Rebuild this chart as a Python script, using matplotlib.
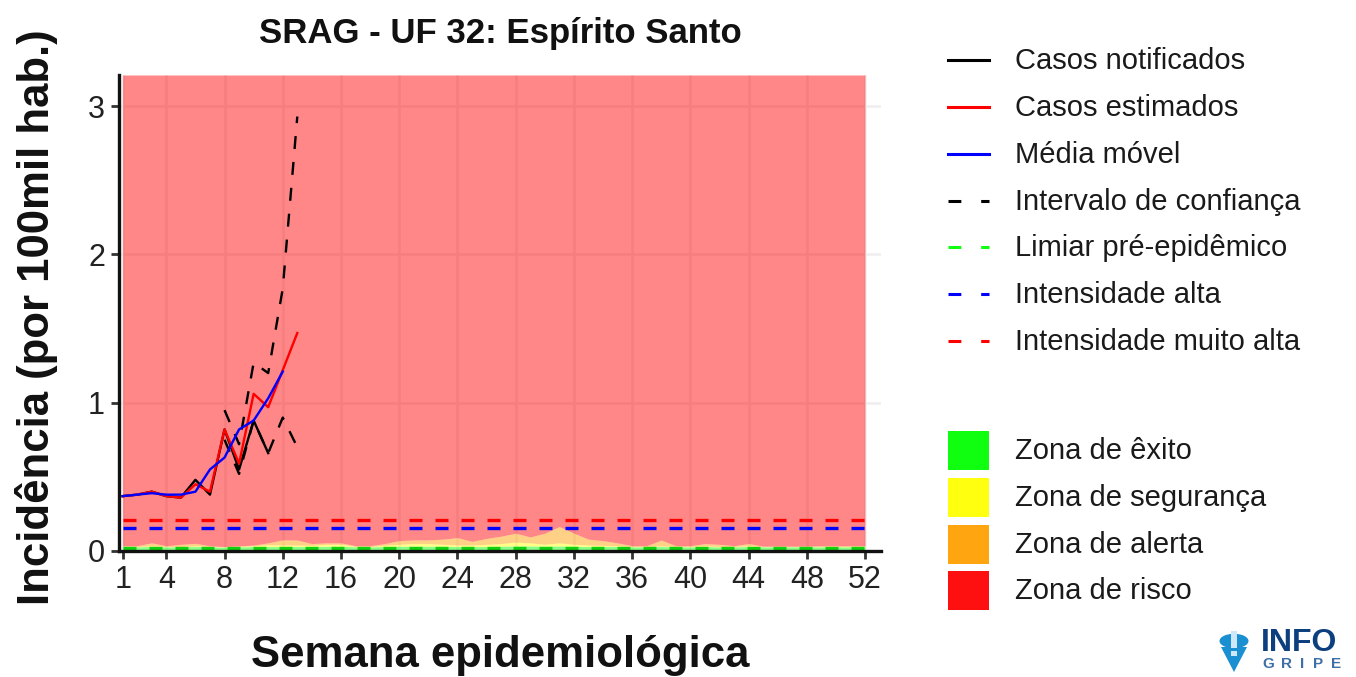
import matplotlib
matplotlib.use("Agg")
import matplotlib.pyplot as plt
from matplotlib.lines import Line2D
from matplotlib.patches import Rectangle, Circle, Polygon

plt.rcParams['font.family'] = ['Liberation Sans', 'DejaVu Sans']

# ---------------- data ----------------
title = "SRAG - UF 32: Espírito Santo"
xlabel = "Semana epidemiológica"
ylabel = "Incidência (por 100mil hab.)"

weeks_all = list(range(1, 53))
xticks = [1, 4, 8, 12, 16, 20, 24, 28, 32, 36, 40, 44, 48, 52]
yticks = [0, 1, 2, 3]

# zone limits per epidemiological week (upper bounds)
green_top = [0.028, 0.028, 0.03, 0.028, 0.028, 0.03, 0.028, 0.026, 0.028, 0.03,
             0.03, 0.03, 0.03, 0.03, 0.032, 0.032, 0.028, 0.028, 0.03, 0.032,
             0.032, 0.032, 0.032, 0.03, 0.03, 0.03, 0.032, 0.034, 0.034, 0.032,
             0.034, 0.032, 0.03, 0.03, 0.03, 0.028, 0.028, 0.03, 0.028, 0.028,
             0.03, 0.028, 0.028, 0.03, 0.028, 0.028, 0.028, 0.028, 0.028, 0.028,
             0.028, 0.028]
yellow_top = [0.03, 0.03, 0.035, 0.03, 0.03, 0.035, 0.03, 0.028, 0.03, 0.035,
              0.042, 0.04, 0.04, 0.038, 0.045, 0.045, 0.03, 0.03, 0.038, 0.045,
              0.05, 0.05, 0.045, 0.04, 0.04, 0.045, 0.05, 0.06, 0.055, 0.045,
              0.055, 0.045, 0.04, 0.038, 0.035, 0.03, 0.03, 0.035, 0.03, 0.03,
              0.035, 0.03, 0.03, 0.035, 0.03, 0.03, 0.03, 0.03, 0.03, 0.03,
              0.03, 0.03]
orange_top = [0.036, 0.036, 0.055, 0.035, 0.045, 0.052, 0.035, 0.03, 0.035, 0.04,
              0.055, 0.075, 0.074, 0.05, 0.055, 0.055, 0.036, 0.036, 0.05, 0.07,
              0.075, 0.075, 0.08, 0.09, 0.065, 0.085, 0.1, 0.12, 0.095, 0.12,
              0.165, 0.12, 0.08, 0.07, 0.055, 0.036, 0.036, 0.074, 0.036, 0.036,
              0.05, 0.045, 0.036, 0.05, 0.033, 0.033, 0.033, 0.033, 0.036, 0.036,
              0.036, 0.036]

limiar_pre = 0.02
intensidade_alta = 0.155
intensidade_muito_alta = 0.21

weeks_notif = list(range(1, 12))
casos_notificados = [0.37, 0.38, 0.40, 0.37, 0.36, 0.48, 0.38, 0.82, 0.55, 0.88, 0.66]

weeks_est = list(range(1, 14))
casos_estimados = [0.37, 0.38, 0.40, 0.37, 0.36, 0.45, 0.40, 0.82, 0.59, 1.06, 0.97, 1.22, 1.47]

weeks_mm = list(range(1, 13))
media_movel = [0.37, 0.38, 0.39, 0.38, 0.38, 0.40, 0.55, 0.63, 0.82, 0.88, 1.03, 1.21]

weeks_ic = list(range(8, 14))
ic_sup = [0.95, 0.72, 1.27, 1.20, 1.77, 2.93]
ic_inf = [0.75, 0.52, 0.88, 0.66, 0.90, 0.70]

legend_lines = ["Casos notificados", "Casos estimados", "Média móvel",
                "Intervalo de confiança", "Limiar pré-epidêmico",
                "Intensidade alta", "Intensidade muito alta"]
legend_zones = ["Zona de êxito", "Zona de segurança", "Zona de alerta", "Zona de risco"]

# ---------------- styles ----------------
C_GREEN_ZONE = '#10FF10'
C_YELLOW_ZONE = '#FFFF10'
C_ORANGE_ZONE = '#FFA510'
C_RED_ZONE = '#FF1010'
C_LIMIAR = '#10D010'

W, H = 1356, 677
fig = plt.figure(figsize=(W / 100, H / 100), dpi=100)


def fx(px):
    return px / W


def fy(py):
    return 1 - py / H


ax = fig.add_axes([fx(119), fy(551), fx(881) - fx(119), fy(75) - fy(551)])
ax.set_xlim(0.75, 53.1)
ax.set_ylim(0, 3.21)
ax.set_facecolor('white')
ax.set_axisbelow(True)
ax.grid(True, color='#EEEEEE', lw=1.8)

ytop = ax.get_ylim()[1]
zone_alpha = 0.5
ax.fill_between(weeks_all, 0, green_top, color=C_GREEN_ZONE, alpha=zone_alpha, lw=0)
ax.fill_between(weeks_all, green_top, yellow_top, color=C_YELLOW_ZONE, alpha=zone_alpha, lw=0)
ax.fill_between(weeks_all, yellow_top, orange_top, color=C_ORANGE_ZONE, alpha=zone_alpha, lw=0)
ax.fill_between(weeks_all, orange_top, ytop, color=C_RED_ZONE, alpha=zone_alpha, lw=0)

thr_kw = dict(lw=2.4, dashes=(3.9, 3.9))
ax.plot([weeks_all[0], weeks_all[-1]], [limiar_pre] * 2, color=C_LIMIAR, **thr_kw)
ax.plot([weeks_all[0], weeks_all[-1]], [intensidade_alta] * 2, color='#0000FF', **thr_kw)
ax.plot([weeks_all[0], weeks_all[-1]], [intensidade_muito_alta] * 2, color='#FF0000', **thr_kw)

ax.plot(weeks_ic, ic_sup, color='black', lw=1.7, dashes=(5.5, 5.5))
ax.plot(weeks_ic, ic_inf, color='black', lw=1.7, dashes=(5.5, 5.5))
ax.plot(weeks_notif, casos_notificados, color='black', lw=1.7)
ax.plot(weeks_est, casos_estimados, color='#FF0000', lw=1.7)
ax.plot(weeks_mm, media_movel, color='#0000FF', lw=1.7)

ax.set_xticks(xticks)
ax.set_yticks(yticks)
ax.set_xticklabels([str(t) for t in xticks])
ax.set_yticklabels([str(t) for t in yticks])
ax.tick_params(axis='both', labelsize=22, length=6, width=2, color='#333333',
               labelcolor='#222222', pad=4)
for s in ['top', 'right']:
    ax.spines[s].set_visible(False)
for s in ['left', 'bottom']:
    ax.spines[s].set_linewidth(2.4)
    ax.spines[s].set_color('#111111')

# ---------------- titles ----------------
fig.text(fx(500), fy(33), title, ha='center', va='center', fontsize=25,
         fontweight='bold', color='#111111')
fig.text(fx(500), fy(655), xlabel, ha='center', va='center', fontsize=31.5,
         fontweight='bold', color='#111111')
fig.text(fx(37), fy(317), ylabel, ha='center', va='center', rotation=90,
         fontsize=31.5, fontweight='bold', color='#111111')

# ---------------- legend (lines) ----------------
line_styles = [
    dict(color='black', lw=2.2),
    dict(color='#FF0000', lw=2.2),
    dict(color='#0000FF', lw=2.2),
    dict(color='black', lw=2.2, dashes=(4.2, 6.5)),
    dict(color='#10FF10', lw=2.2, dashes=(4.2, 6.5)),
    dict(color='#0000FF', lw=2.2, dashes=(4.2, 6.5)),
    dict(color='#FF0000', lw=2.2, dashes=(4.2, 6.5)),
]
rows = [60, 107, 154, 201, 247, 294, 341]
for lab, st, ry in zip(legend_lines, line_styles, rows):
    fig.add_artist(Line2D([fx(948), fx(989)], [fy(ry), fy(ry)], transform=fig.transFigure, **st))
    fig.text(fx(1015), fy(ry + 1), lab, ha='left', va='center', fontsize=21, color='#1a1a1a')

zone_colors = [C_GREEN_ZONE, C_YELLOW_ZONE, C_ORANGE_ZONE, C_RED_ZONE]
zrows = [450, 497, 544, 590]
for lab, c, ry in zip(legend_zones, zone_colors, zrows):
    fig.add_artist(Rectangle((fx(948), fy(ry + 19.5)), fx(41), 39 / H, transform=fig.transFigure,
                             facecolor=c, edgecolor='none'))
    fig.text(fx(1015), fy(ry + 1), lab, ha='left', va='center', fontsize=21, color='#1a1a1a')

# ---------------- logo ----------------
pin = '#1A8FD2'
fig.add_artist(Circle((fx(1234), fy(641)), 14.5 / W, transform=fig.transFigure,
                      facecolor=pin, edgecolor='none'))
fig.add_artist(Polygon([[fx(1221), fy(647)], [fx(1247), fy(647)], [fx(1234), fy(672)]],
                       closed=True, transform=fig.transFigure, facecolor=pin, edgecolor='none'))
fig.add_artist(Rectangle((fx(1231), fy(648)), fx(6), 17 / H, transform=fig.transFigure,
                         facecolor='#CFE8F7', edgecolor='none'))
fig.add_artist(Rectangle((fx(1231), fy(656)), fx(6), 5 / H, transform=fig.transFigure,
                         facecolor='#CFE8F7', edgecolor='none'))
fig.text(fx(1261), fy(651), "INFO", ha='left', va='baseline', fontsize=23,
         fontweight='bold', color='#0B3F7E')
for ch, px in zip("GRIPE", [1268, 1286, 1302, 1318, 1336]):
    fig.text(fx(px), fy(668), ch, ha='center', va='baseline', fontsize=11,
             fontweight='bold', color='#3E6FA6')

fig.savefig("out.png", dpi=100)
